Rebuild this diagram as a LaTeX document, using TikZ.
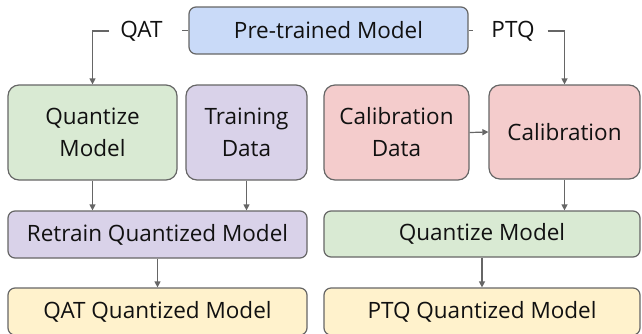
\documentclass[tikz,border=0pt]{standalone}
\usepackage{fontspec}
\setmainfont{Open Sans}
\usetikzlibrary{arrows.meta}
\definecolor{cblue}{HTML}{C9DAF8}
\definecolor{cgreen}{HTML}{D9EAD3}
\definecolor{cpurple}{HTML}{D9D2E9}
\definecolor{cred}{HTML}{F4CCCC}
\definecolor{cyellow}{HTML}{FFF2CC}
\definecolor{cstroke}{HTML}{666666}
\definecolor{ctext}{HTML}{111111}
\tikzset{
  box/.style={draw=cstroke, line width=1.2pt, text=ctext, align=center, inner sep=0pt,
    font=\fontsize{22.5}{32}\selectfont},
  tall/.style={box, rounded corners=11pt},
  short/.style={box, rounded corners=7pt},
  lbl/.style={text=ctext, inner sep=0pt, font=\fontsize{22.5}{24}\selectfont},
  conn/.style={draw=cstroke, line width=1.2pt},
  arr/.style={conn, -{Triangle[width=6pt,length=6pt]}},
}
\begin{document}
\begin{tikzpicture}[x=1pt,y=1pt]
\useasboundingbox (0,0) rectangle (642,-333);
\clip (0,0) rectangle (642,-333);
% top
\node[short, fill=cblue, minimum width=279, minimum height=47] (pre) at (328.5,-30.5) {Pre-trained Model};
\node[lbl] (qat) at (141.5,-31) {QAT};
\node[lbl] (ptq) at (513,-31) {PTQ};
% row 2
\node[tall, fill=cgreen, minimum width=169, minimum height=95] (qm) at (92.5,-132.5) {Quantize\\Model};
\node[tall, fill=cpurple, minimum width=121, minimum height=95] (td) at (246.5,-132.5) {Training\\Data};
\node[tall, fill=cred, minimum width=145, minimum height=95] (cd) at (396.5,-132.5) {Calibration\\Data};
\node[tall, fill=cred, minimum width=151, minimum height=94] (cal) at (564.5,-132) {Calibration};
% row 3
\node[short, fill=cpurple, minimum width=299, minimum height=47] (rt) at (157.5,-234.5) {Retrain Quantized Model};
\node[short, fill=cgreen, minimum width=316, minimum height=46] (qm2) at (482,-234) {Quantize Model};
% row 4
\node[short, fill=cyellow, minimum width=299, minimum height=47] (qq) at (157.5,-311.5) {QAT Quantized Model};
\node[short, fill=cyellow, minimum width=316, minimum height=47] (pq) at (482,-311.5) {PTQ Quantized Model};
% connectors
\draw[conn] (pre.west) -- ([xshift=-6pt]pre.west);
\draw[arr] ([xshift=-11pt]qat.west) -| (qm.north);
\draw[conn] (pre.east) -- ([xshift=4pt]pre.east);
\draw[arr] ([xshift=13pt]ptq.east) -| (cal.north);
\draw[arr] (cd.east) -- (cal.west);
\draw[arr] (qm.south) -- (qm.south |- rt.north);
\draw[arr] (td.south) -- (td.south |- rt.north);
\draw[arr] (rt.south) -- (rt.south |- qq.north);
\draw[arr] (cal.south) -- (cal.south |- qm2.north);
\draw[arr] (qm2.south) -- (qm2.south |- pq.north);
\end{tikzpicture}
\end{document}
